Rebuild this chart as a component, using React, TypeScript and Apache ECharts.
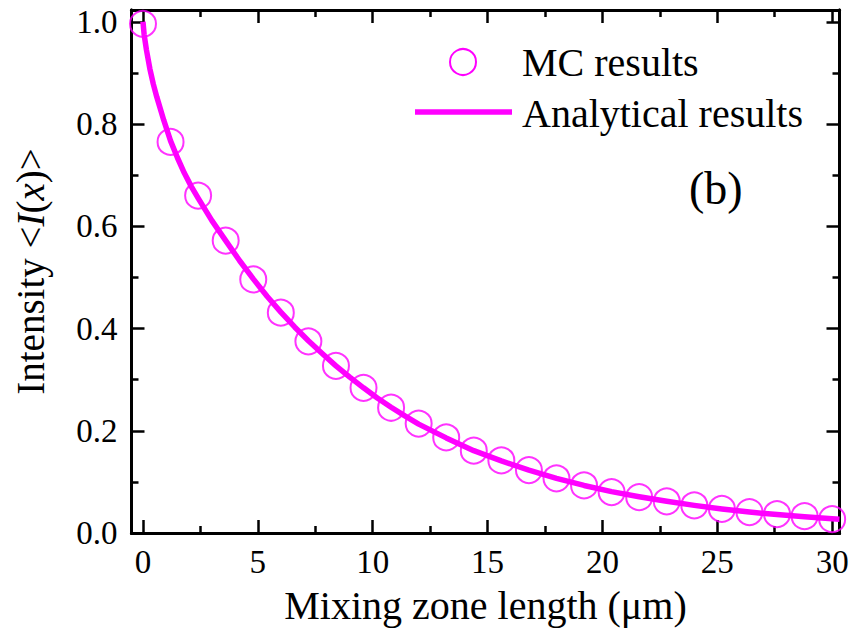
import React, { useEffect, useRef } from "react";
import * as echarts from "echarts";

const xMin = -0.5;
const xMax = 30.32;
const yMin = 0;
const yMax = 1.023;

const xTicks = [0, 5, 10, 15, 20, 25, 30];
const xMinorTicks = [2.5, 7.5, 12.5, 17.5, 22.5, 27.5];
const yTicks = [0, 0.2, 0.4, 0.6, 0.8, 1.0];
const yMinorTicks = [0.1, 0.3, 0.5, 0.7, 0.9];

const mcX = [0, 1.2, 2.4, 3.6, 4.8, 6.0, 7.2, 8.4, 9.6, 10.8, 12.0, 13.2, 14.4, 15.6, 16.8, 18.0, 19.2, 20.4, 21.6, 22.8, 24.0, 25.2, 26.4, 27.6, 28.8, 30.0];
const mcY = [0.996, 0.765, 0.660, 0.572, 0.496, 0.431, 0.375, 0.327, 0.284, 0.245, 0.214, 0.187, 0.161, 0.142, 0.123, 0.107, 0.093, 0.080, 0.070, 0.062, 0.054, 0.047, 0.041, 0.037, 0.033, 0.027];

const lineX = [0, 0.05, 0.15, 0.3, 0.45, 0.6, 0.9, 1.2, 1.5, 1.8, 2.1, 2.4, 3.0, 3.6, 4.2, 4.8, 5.4, 6.0, 6.6, 7.2, 7.8, 8.4, 9.0, 9.6, 10.2, 10.8, 11.4, 12.0, 13.2, 14.4, 15.6, 16.8, 18.0, 19.2, 20.4, 21.6, 22.8, 24.0, 25.2, 26.4, 27.6, 28.8, 30.0, 30.32];
const lineY = [1.0, 0.975, 0.945, 0.908, 0.878, 0.853, 0.808, 0.767, 0.734, 0.704, 0.678, 0.655, 0.611, 0.572, 0.533, 0.497, 0.463, 0.432, 0.403, 0.376, 0.351, 0.327, 0.305, 0.284, 0.264, 0.246, 0.229, 0.213, 0.186, 0.161, 0.141, 0.123, 0.107, 0.093, 0.081, 0.071, 0.062, 0.054, 0.047, 0.041, 0.036, 0.032, 0.028, 0.027];

const seriesNames = ["MC results", "Analytical results"];
const panelLabel = "(b)";
const xTitle = "Mixing zone length (\u03bcm)";
const yTitle = "Intensity <{it|I}({it|x})>";

const MAGENTA = "#ff00ff";
const FONT = "'Liberation Serif', 'Times New Roman', serif";

export default function App() {
  const ref = useRef<HTMLDivElement>(null);

  useEffect(() => {
    if (!ref.current) return;
    const chart = echarts.init(ref.current, null, { renderer: "svg" });
    const lineStyle = { color: "#000", width: 3 };

    const mkX = (position: string, ticks: number[], len: number, labels: boolean, extra: any = {}) => ({
      type: "value",
      position,
      min: xMin,
      max: xMax,
      axisLine: { show: true, onZero: false, lineStyle },
      axisTick: { show: true, inside: true, length: len, customValues: ticks, lineStyle: { color: "#000", width: 2.5 } },
      axisLabel: labels
        ? { show: true, customValues: ticks, margin: 12, fontSize: 33, color: "#000", fontFamily: FONT, formatter: (v: number) => String(v) }
        : { show: false },
      splitLine: { show: false },
      ...extra,
    });
    const mkY = (position: string, ticks: number[], len: number, labels: boolean, extra: any = {}) => ({
      type: "value",
      position,
      min: yMin,
      max: yMax,
      axisLine: { show: true, onZero: false, lineStyle },
      axisTick: { show: true, inside: true, length: len, customValues: ticks, lineStyle: { color: "#000", width: 2.5 } },
      axisLabel: labels
        ? { show: true, customValues: ticks, margin: 14, fontSize: 33, color: "#000", fontFamily: FONT, formatter: (v: number) => v.toFixed(1) }
        : { show: false },
      splitLine: { show: false },
      ...extra,
    });

    chart.setOption({
      animation: false,
      backgroundColor: "#fff",
      grid: { left: 131.5, right: 23.5, top: 10, bottom: 95, containLabel: false },
      xAxis: [
        mkX("bottom", xTicks, 13, true, {
          name: xTitle,
          nameLocation: "middle",
          nameGap: 52,
          nameTextStyle: { fontSize: 40, color: "#000", fontFamily: FONT },
        }),
        mkX("bottom", xMinorTicks, 7, false),
        mkX("top", xTicks, 13, false),
        mkX("top", xMinorTicks, 7, false),
      ],
      yAxis: [
        mkY("left", yTicks, 13, true, {
          name: yTitle,
          nameLocation: "middle",
          nameGap: 82,
          nameTextStyle: {
            fontSize: 39,
            color: "#000",
            fontFamily: FONT,
            rich: { it: { fontStyle: "italic", fontSize: 39, fontFamily: FONT, color: "#000" } },
          },
        }),
        mkY("left", yMinorTicks, 7, false),
        mkY("right", yTicks, 13, false),
        mkY("right", yMinorTicks, 7, false),
      ],
      series: [
        {
          name: seriesNames[1],
          type: "line",
          xAxisIndex: 0,
          yAxisIndex: 0,
          data: lineX.map((x, i) => [x, lineY[i]]),
          showSymbol: false,
          smooth: false,
          lineStyle: { color: MAGENTA, width: 5.5, join: "round" },
          clip: true,
          z: 2,
        },
        {
          name: seriesNames[0],
          type: "scatter",
          xAxisIndex: 0,
          yAxisIndex: 0,
          data: mcX.map((x, i) => [x, mcY[i]]),
          symbol: "circle",
          symbolSize: 26,
          itemStyle: { color: "rgba(0,0,0,0)", borderColor: MAGENTA, borderWidth: 2 },
          clip: false,
          z: 3,
        },
      ],
      graphic: [
        { type: "circle", shape: { cx: 463, cy: 62, r: 13 }, style: { fill: "none", stroke: MAGENTA, lineWidth: 2 } },
        { type: "line", shape: { x1: 415, y1: 112, x2: 512, y2: 112 }, style: { stroke: MAGENTA, lineWidth: 5.5 } },
        { type: "text", x: 522, y: 62, style: { text: seriesNames[0], font: `40px ${FONT}`, fill: "#000", textVerticalAlign: "middle", textAlign: "left" } },
        { type: "text", x: 522, y: 113, style: { text: seriesNames[1], font: `40px ${FONT}`, fill: "#000", textVerticalAlign: "middle", textAlign: "left" } },
        { type: "text", x: 689, y: 188, style: { text: panelLabel, font: `46px ${FONT}`, fill: "#000", textVerticalAlign: "middle", textAlign: "left" } },
      ],
    });

    return () => chart.dispose();
  }, []);

  return <div ref={ref} style={{ position: "fixed", left: 0, top: 0, width: 863, height: 630, background: "#fff" }} />;
}
